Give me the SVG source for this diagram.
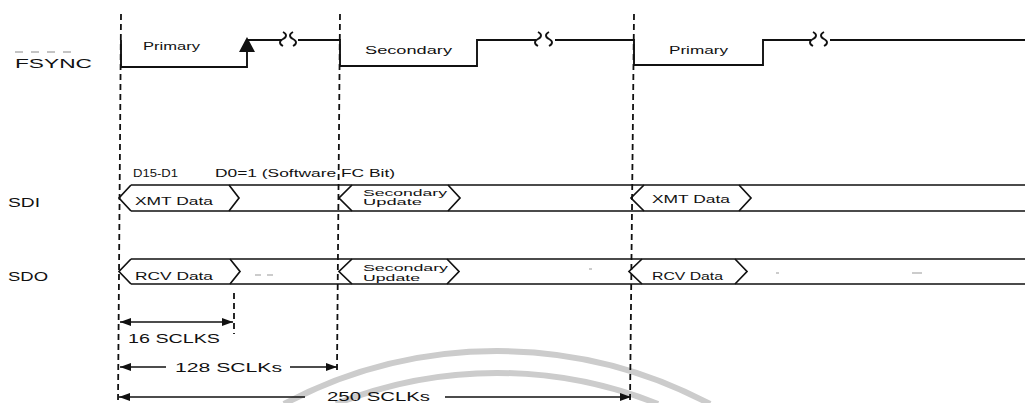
<svg xmlns="http://www.w3.org/2000/svg" width="1025" height="403" viewBox="0 0 1025 403">
<defs>
<marker id="ah" markerUnits="userSpaceOnUse" markerWidth="11" markerHeight="8" refX="11" refY="4" orient="auto-start-reverse"><path d="M0,0 L11,4 L0,8 z" fill="#111"/></marker>
<style>
text{font-family:"Liberation Sans",Arial,sans-serif;fill:#111}
.sig{font-size:13.5px}
.lbl{font-size:10px}
.cell{font-size:10.5px}
.two{font-size:9.5px}
.dim{font-size:12px}
.wave{fill:none;stroke:#111;stroke-width:1.9;stroke-linejoin:miter}
.bus{fill:none;stroke:#111;stroke-width:1.7}
.dash{fill:none;stroke:#111;stroke-width:1.8;stroke-dasharray:6,4}
.dim-line{fill:none;stroke:#111;stroke-width:1.3}
.noise{stroke:#999;stroke-width:1}
.wm{fill:none;stroke:#cccccc;stroke-width:6}
</style>
</defs>
<rect width="1025" height="403" fill="#fff"/>

<g id="watermark">
<path class="wm" d="M284,404 A455,455 0 0 1 710,404"/>
<path class="wm" d="M336,404 A433,433 0 0 1 658,404"/>
</g>

<g id="connectors">
<line class="dash" x1="121" y1="14" x2="118" y2="403"/>
<line class="dash" x1="340" y1="14" x2="337" y2="370"/>
<line class="dash" x1="634" y1="14" x2="630" y2="403"/>
<line class="dash" x1="234" y1="293" x2="234" y2="334"/>
<line class="dim-line" x1="120" y1="322" x2="233" y2="322" marker-start="url(#ah)" marker-end="url(#ah)"/>
<line class="dim-line" x1="120" y1="367" x2="166" y2="367" marker-start="url(#ah)"/>
<line class="dim-line" x1="290" y1="367" x2="337" y2="367" marker-end="url(#ah)"/>
<line class="dim-line" x1="119" y1="397" x2="305" y2="397" marker-start="url(#ah)"/>
<line class="dim-line" x1="445" y1="397" x2="631" y2="397" marker-end="url(#ah)"/>
</g>

<g id="fsync">
<line x1="15" y1="52" x2="72" y2="52" stroke="#888" stroke-width="1" stroke-dasharray="8,8"/>
<text class="sig" x="15" y="68" textLength="77" lengthAdjust="spacingAndGlyphs">FSYNC</text>
<path class="wave" d="M121,40 V67 H247 V40 H282"/>
<path class="wave" d="M298,40 H340 V66 H477 V40 H536"/>
<path class="wave" d="M555,40 H634 V65 H763 V40 H811"/>
<path class="wave" d="M830,40 H1025"/>
<path class="wave" stroke-width="1.5" d="M283,32 c4,2 4,5 0,7 c-4,2 -4,5 0,7 M293,32 c-4,2 -4,5 0,7 c4,2 4,5 0,7"/>
<path class="wave" stroke-width="1.5" d="M538,32 c4,2 4,5 0,7 c-4,2 -4,5 0,7 M549,32 c-4,2 -4,5 0,7 c4,2 4,5 0,7"/>
<path class="wave" stroke-width="1.5" d="M813,32 c4,2 4,5 0,7 c-4,2 -4,5 0,7 M824,32 c-4,2 -4,5 0,7 c4,2 4,5 0,7"/>
<polygon points="247,37 239,52 255,52" fill="#111"/>
<text class="lbl" x="143" y="50" textLength="57" lengthAdjust="spacingAndGlyphs">Primary</text>
<text class="lbl" x="365" y="54" textLength="87" lengthAdjust="spacingAndGlyphs">Secondary</text>
<text class="lbl" x="669" y="54" textLength="59" lengthAdjust="spacingAndGlyphs">Primary</text>
</g>

<g id="sdi">
<text class="sig" x="8" y="207" textLength="32" lengthAdjust="spacingAndGlyphs">SDI</text>
<text class="cell" x="133" y="177" textLength="45" lengthAdjust="spacingAndGlyphs">D15-D1</text>
<text class="cell" x="215" y="177" textLength="180" lengthAdjust="spacingAndGlyphs">D0=1 (Software FC Bit)</text>
<path class="bus" d="M131,185 H1025 M131,211 H1025"/>
<path class="bus" d="M131,185 L119,198 L131,211 M229,185 L239,198 L229,211"/>
<path class="bus" d="M352,185 L339,198 L352,211 M448,185 L460,198 L448,211"/>
<path class="bus" d="M644,185 L631,198 L644,211 M739,185 L751,198 L739,211"/>
<text class="cell" x="135" y="205" textLength="78" lengthAdjust="spacingAndGlyphs">XMT Data</text>
<text class="two" x="363" y="196" textLength="84" lengthAdjust="spacingAndGlyphs">Secondary</text>
<text class="two" x="363" y="205" textLength="59" lengthAdjust="spacingAndGlyphs">Update</text>
<text class="cell" x="652" y="203" textLength="78" lengthAdjust="spacingAndGlyphs">XMT Data</text>
</g>

<g id="sdo">
<text class="sig" x="8" y="281" textLength="40" lengthAdjust="spacingAndGlyphs">SDO</text>
<path class="bus" d="M131,259 H1025 M131,284 H1025"/>
<path class="bus" d="M131,259 L119,271.5 L131,284 M230,259 L240,271.5 L230,284"/>
<path class="bus" d="M352,259 L339,271.5 L352,284 M447,259 L459,271.5 L447,284"/>
<path class="bus" d="M642,259 L629,271.5 L642,284 M735,259 L747,271.5 L735,284"/>
<text class="cell" x="135" y="280" textLength="78" lengthAdjust="spacingAndGlyphs">RCV Data</text>
<text class="two" x="363" y="271" textLength="85" lengthAdjust="spacingAndGlyphs">Secondary</text>
<text class="two" x="363" y="281" textLength="57" lengthAdjust="spacingAndGlyphs">Update</text>
<text class="cell" x="652" y="280" textLength="71" lengthAdjust="spacingAndGlyphs">RCV Data</text>
<path class="noise" d="M255,275 H261 M267,275 H273 M589,269 H592 M776,273 H779 M912,273 H922"/>
</g>

<g id="dimensions">
<text class="dim" x="128" y="343" textLength="92" lengthAdjust="spacingAndGlyphs">16 SCLKS</text>
<text class="dim" x="175" y="372" textLength="107" lengthAdjust="spacingAndGlyphs">128 SCLKs</text>
<text class="dim" x="327" y="401" font-size="11px" textLength="103" lengthAdjust="spacingAndGlyphs">250 SCLKs</text>
</g>
</svg>
